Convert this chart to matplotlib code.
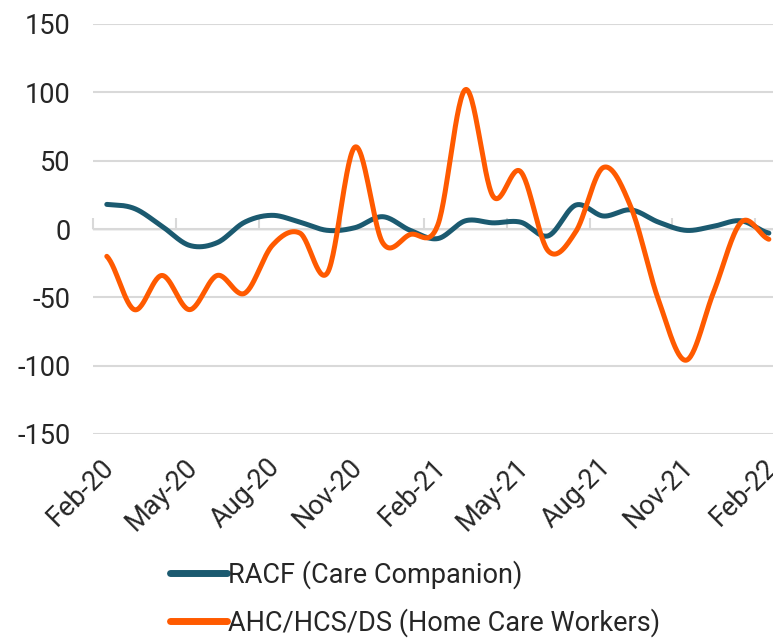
import numpy as np
import matplotlib
matplotlib.use("Agg")
import matplotlib.pyplot as plt
from matplotlib.transforms import ScaledTranslation

plt.rcParams['font.family'] = ['Roboto', 'DejaVu Sans']
plt.rcParams['axes.unicode_minus'] = False

# monthly data Feb-20 .. Feb-22
months = ["Feb-20", "Mar-20", "Apr-20", "May-20", "Jun-20", "Jul-20", "Aug-20",
          "Sep-20", "Oct-20", "Nov-20", "Dec-20", "Jan-21", "Feb-21", "Mar-21",
          "Apr-21", "May-21", "Jun-21", "Jul-21", "Aug-21", "Sep-21", "Oct-21",
          "Nov-21", "Dec-21", "Jan-22", "Feb-22"]
racf = [18, 15, 2, -12, -10, 5, 10, 5, -1, 1, 9, -1, -7,
        6, 4.5, 5, -5, 17.5, 9.5, 14, 5, -1, 2, 6, -3]
ahc = [-20, -59, -34, -59, -34, -47, -12, -3, -32, 60, -10, -4, 3,
       102, 24, 42, -16, -2, 45, 16, -52, -96, -46, 5, -7.5]
series_names = ["RACF (Care Companion)", "AHC/HCS/DS (Home Care Workers)"]
colors = ["#1B5A70", "#FF5A00"]


def smooth(y, n=30):
    # Catmull-Rom style smoothing like Excel's "smoothed line"
    y = np.asarray(y, dtype=float)
    x = np.arange(len(y), dtype=float)
    px = np.concatenate([[2 * x[0] - x[1]], x, [2 * x[-1] - x[-2]]])
    py = np.concatenate([[y[0]], y, [y[-1]]])
    xs, ys = [], []
    t = np.linspace(0, 1, n, endpoint=False)
    for i in range(1, len(px) - 2):
        p0, p1, p2, p3 = px[i-1], px[i], px[i+1], px[i+2]
        q0, q1, q2, q3 = py[i-1], py[i], py[i+1], py[i+2]
        c1x, c1y = p1 + (p2 - p0) / 6, q1 + (q2 - q0) / 6
        c2x, c2y = p2 - (p3 - p1) / 6, q2 - (q3 - q1) / 6
        bx = (1-t)**3*p1 + 3*(1-t)**2*t*c1x + 3*(1-t)*t**2*c2x + t**3*p2
        by = (1-t)**3*q1 + 3*(1-t)**2*t*c1y + 3*(1-t)*t**2*c2y + t**3*q2
        xs.extend(bx)
        ys.extend(by)
    xs.append(x[-1])
    ys.append(y[-1])
    return np.array(xs), np.array(ys)


fig = plt.figure(figsize=(7.73, 6.38), dpi=100)
ax = fig.add_axes([93/773, (638-434)/638, 680/773, 410/638])

for vals, name, c in zip([racf, ahc], series_names, colors):
    sx, sy = smooth(vals)
    ax.plot(sx, sy, color=c, lw=3.6, label=name, solid_capstyle='round', zorder=3)

ax.set_ylim(-150, 150)
ax.set_yticks(range(-150, 151, 50))
ax.set_xlim(-0.5, 24.15)
ax.grid(axis='y', color='#d9d9d9', lw=1.5)
ax.set_axisbelow(True)
for s in ax.spines.values():
    s.set_visible(False)

fs = 19.5
ax.set_xticks(range(0, len(months), 3))
ax.set_xticklabels(months[::3], rotation=45, ha='right', rotation_mode='anchor')
ax.tick_params(axis='x', length=0, pad=14, labelsize=fs, labelcolor='#262626')
ax.tick_params(axis='y', length=0, pad=16, labelsize=fs, labelcolor='#262626')
shift = ScaledTranslation(-6/100, 0, fig.dpi_scale_trans)
for lbl in ax.get_xticklabels():
    lbl.set_transform(lbl.get_transform() + shift)

# category axis drawn at y = 0 with tick marks between categories
sec = ax.secondary_xaxis(0.5)
sec.set_xticks(np.arange(-0.5, len(months), 3))
sec.set_xticklabels([])
sec.tick_params(axis='x', length=8, width=1.5, color='#d9d9d9', direction='out')
sec.spines['bottom'].set_color('#d9d9d9')
sec.spines['bottom'].set_linewidth(1.5)

leg = fig.legend(loc='upper left', bbox_to_anchor=(170/773, 1 - 560/638),
                 frameon=False, fontsize=fs, handlelength=2.1, handletextpad=0.05,
                 labelspacing=0.72, borderpad=0, borderaxespad=0)
for line in leg.get_lines():
    line.set_linewidth(5)
for t in leg.get_texts():
    t.set_color('#262626')

fig.savefig("out.png", dpi=100)
